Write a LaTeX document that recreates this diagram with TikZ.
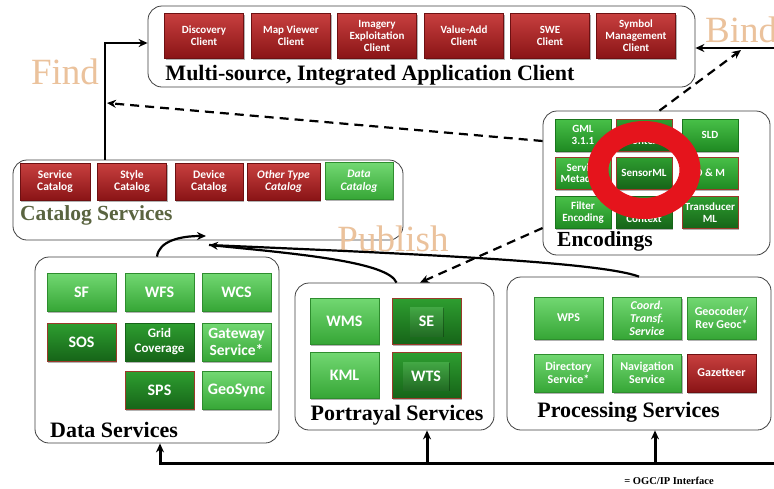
\documentclass[tikz,border=0pt]{standalone}
\usepackage{fontspec}
\setmainfont{Liberation Serif}
\newfontfamily\boxfont{Carlito}
\usetikzlibrary{arrows.meta,shadows}

\definecolor{redtop}{HTML}{C8403F}
\definecolor{redbot}{HTML}{8A1416}
\definecolor{lgtop}{HTML}{72D872}
\definecolor{lgbot}{HTML}{36A636}
\definecolor{mgtop}{HTML}{48C048}
\definecolor{mgbot}{HTML}{1F8A22}
\definecolor{dgtop}{HTML}{2E9E30}
\definecolor{dgbot}{HTML}{166418}
\definecolor{edgered}{HTML}{9A3A2A}
\definecolor{tanword}{HTML}{EBC29C}
\definecolor{olivelabel}{HTML}{5A6440}
\definecolor{ringred}{HTML}{E5141C}

\tikzset{
  panel/.style={draw=black!75, line width=0.8pt, rounded corners=14pt, fill=white, inner sep=0pt},
  tile/.style={rectangle, align=center, text=white, inner sep=1pt,
    font=\boxfont\bfseries\fontsize{11}{12}\selectfont,
    drop shadow={shadow xshift=1.2pt, shadow yshift=-1.6pt, opacity=0.3, fill=black}},
  redtile/.style={tile, top color=redtop, bottom color=redbot, draw=redbot!80!black, line width=0.4pt},
  lgtile/.style={tile, top color=lgtop, bottom color=lgbot, draw=lgbot!85!black, line width=0.4pt},
  mgtile/.style={tile, top color=mgtop, bottom color=mgbot, draw=mgbot!85!black, line width=0.4pt},
  dgtile/.style={tile, top color=dgtop, bottom color=dgbot, draw=edgered, line width=0.8pt},
  innertile/.style={rectangle, align=center, text=white, inner sep=0pt,
    top color=dgtop!90!white, bottom color=dgbot!95!white,
    font=\boxfont\bfseries\fontsize{16}{18}\selectfont,
    drop shadow={shadow xshift=1pt, shadow yshift=-1.2pt, opacity=0.3, fill=black}},
  clienttile/.style={redtile, minimum width=79pt, minimum height=45pt},
  cattile/.style={minimum width=69pt, minimum height=37pt, font=\boxfont\bfseries\fontsize{11.5}{12.5}\selectfont},
  enctile/.style={minimum width=56pt, minimum height=32pt, font=\boxfont\bfseries\fontsize{11}{11.5}\selectfont},
  datatile/.style={minimum width=69pt, minimum height=38pt, font=\boxfont\bfseries\fontsize{16}{18}\selectfont},
  porttile/.style={minimum width=69pt, minimum height=46pt, font=\boxfont\bfseries\fontsize{16}{18}\selectfont},
  proctile/.style={minimum width=69pt, font=\boxfont\bfseries\fontsize{12}{13}\selectfont},
  paneltitle/.style={font=\bfseries\fontsize{22}{24}\selectfont, inner sep=0pt},
  roleword/.style={text=tanword, font=\fontsize{37}{40}\selectfont, inner sep=0pt},
  conn/.style={line width=2.2pt, -{Stealth[length=9pt,width=8pt]}},
  dconn/.style={line width=2.2pt, dash pattern=on 9pt off 6pt, -{Stealth[length=9pt,width=8pt]}},
  bus/.style={line width=3pt, -{Stealth[length=9pt,width=8pt]}},
}

\begin{document}
\begin{tikzpicture}[x=1pt, y=-1pt]
\useasboundingbox (0,0) rectangle (774,488);
\fill[white] (0,0) rectangle (774,488);

% ---------- panels ----------
\node[panel, minimum width=547pt, minimum height=81pt] (clients) at (421.5,46.5) {};
\node[panel, minimum width=390pt, minimum height=80pt] (catalog) at (208,200) {};
\node[panel, minimum width=227pt, minimum height=144pt] (encodings) at (656.5,183) {};
\node[panel, minimum width=244pt, minimum height=186pt] (data) at (157,350) {};
\node[panel, minimum width=199pt, minimum height=147pt] (portrayal) at (394.5,356.5) {};
\node[panel, minimum width=264pt, minimum height=153pt] (processing) at (639,353.5) {};

% ---------- client tier ----------
\node[clienttile] (discovery) at (204,35.5) {Discovery\\Client};
\node[clienttile] (mapviewer) at (291,35.5) {Map Viewer\\Client};
\node[clienttile] (imagery) at (377,35.5) {Imagery\\Exploitation\\Client};
\node[clienttile] (valueadd) at (464,35.5) {Value-Add\\Client};
\node[clienttile] (sweclient) at (550,35.5) {SWE\\Client};
\node[clienttile] (symbol) at (636,35.5) {Symbol\\Management\\Client};
\node[paneltitle] (clientlabel) at (370,75) {Multi-source, Integrated Application Client};

% ---------- catalog services ----------
\node[redtile, cattile, minimum width=70pt] (svccat) at (55,181.5) {Service\\Catalog};
\node[redtile, cattile] (stylecat) at (132,181.5) {Style\\Catalog};
\node[redtile, cattile, minimum width=68pt] (devcat) at (209,181.5) {Device\\Catalog};
\node[redtile, cattile, minimum width=73pt, font=\boxfont\bfseries\itshape\fontsize{11.5}{12.5}\selectfont] (othercat) at (283.5,181.5) {Other Type\\Catalog};
\node[lgtile, cattile, minimum width=68pt, font=\boxfont\bfseries\itshape\fontsize{11.5}{12.5}\selectfont] (datacat) at (359,181) {Data\\Catalog};
\node[paneltitle, text=olivelabel, anchor=west, font=\bfseries\fontsize{21.5}{24}\selectfont] (catlabel) at (20,215) {Catalog Services};

% ---------- encodings ----------
\node[mgtile, enctile] (gml) at (583,135) {GML\\3.1.1};
\node[dgtile, enctile] (owc) at (644,135) {Open Web\\Context};
\node[mgtile, enctile] (sld) at (710,135) {SLD};
\node[mgtile, enctile, draw=edgered, line width=0.8pt] (svcmeta) at (583,173) {Service\\Metadata};
\node[dgtile, enctile] (sensorml) at (644,173) {SensorML};
\node[mgtile, enctile, draw=edgered, line width=0.8pt] (om) at (710,173) {O \& M};
\node[mgtile, enctile] (filter) at (583,212.5) {Filter\\Encoding};
\node[dgtile, enctile, draw=dgbot] (wmc) at (644,212.5) {Web Map\\Context};
\node[dgtile, enctile] (transducer) at (710,212.5) {Transducer\\ML};
\node[paneltitle, anchor=west, font=\bfseries\fontsize{21.5}{24}\selectfont] (enclabel) at (557,241) {Encodings};
\draw[ringred, line width=21pt] (644,170) ellipse [x radius=46, y radius=38.5];

% ---------- data services ----------
\node[lgtile, datatile] (sf) at (81.5,292) {SF};
\node[lgtile, datatile] (wfs) at (159.5,292) {WFS};
\node[lgtile, datatile] (wcs) at (236.5,292) {WCS};
\node[dgtile, datatile] (sos) at (81.5,342) {SOS};
\node[dgtile, datatile, draw=dgbot, font=\boxfont\bfseries\fontsize{13}{15}\selectfont] (grid) at (159.5,342) {Grid\\Coverage};
\node[lgtile, datatile, font=\boxfont\bfseries\fontsize{15.5}{17}\selectfont] (gateway) at (236.5,342) {Gateway\\Service*};
\node[dgtile, datatile] (sps) at (159.5,390.5) {SPS};
\node[lgtile, datatile] (geosync) at (236.5,390.5) {GeoSync};
\node[paneltitle, anchor=west] (datalabel) at (50,430) {Data Services};

% ---------- portrayal services ----------
\node[lgtile, porttile] (wms) at (344.5,321) {WMS};
\node[dgtile, porttile] (se) at (426.5,321) {};
\node[innertile, minimum width=33pt, minimum height=29pt] (seinner) at (426.5,321.5) {SE};
\node[lgtile, porttile] (kml) at (344.5,375) {KML};
\node[dgtile, porttile] (wts) at (426.5,375) {};
\node[innertile, minimum width=46pt, minimum height=28pt] (wtsinner) at (426,376) {WTS};
\node[paneltitle] (portlabel) at (397,415) {Portrayal Services};

% ---------- processing services ----------
\node[lgtile, proctile, minimum height=42pt] (wps) at (568.5,318) {WPS};
\node[lgtile, proctile, minimum height=42pt, font=\boxfont\bfseries\itshape\fontsize{12}{13}\selectfont] (coord) at (647,318) {Coord.\\Transf.\\Service};
\node[lgtile, proctile, minimum height=42pt] (geocoder) at (721.5,318) {Geocoder/\\Rev Geoc*};
\node[lgtile, proctile, minimum height=38pt] (directory) at (568.5,373) {Directory\\Service*};
\node[lgtile, proctile, minimum height=38pt] (navigation) at (647,373) {Navigation\\Service};
\node[redtile, proctile, minimum height=38pt] (gazetteer) at (721.5,373) {Gazetteer};
\node[paneltitle] (proclabel) at (628.5,412) {Processing Services};

% ---------- role words ----------
\node[roleword] (find) at (65,72) {Find};
\node[roleword, anchor=west] (bind) at (705,30) {Bind};
\node[roleword] (publish) at (393,239) {Publish};

% ---------- find ----------
\coordinate (findcorner) at (105,43);
\draw[conn] (catalog.north -| findcorner) -- (findcorner) -- (clients.west |- findcorner);
\draw[dconn] (encodings.west |- 0,141) -- (107,103);

% ---------- bind ----------
\coordinate (bindsrc) at (774,48);
\draw[conn] (bindsrc) -- (clients.east |- bindsrc);
\coordinate (bindhit) at (741,50);
\draw[dconn] ([xshift=3pt]encodings.north) -- (bindhit);

% ---------- publish ----------
\coordinate (pubtipA) at (206,236);
\coordinate (pubtipB) at (209,245);
\draw[conn] (data.north) .. controls (159,241) and (180,236) .. (pubtipA);
\draw[conn] ([xshift=2pt]portrayal.north) .. controls (388,262) and (300,254) .. (pubtipB);
\draw[line width=2.2pt] (processing.north) .. controls (600,262) and (420,254) .. (pubtipB);
\draw[dconn] (encodings.west |- 0,228) -- ([xshift=25.5pt]portrayal.north);

% ---------- OGC/IP interface bus ----------
\coordinate (busL) at (160,463);
\coordinate (busR) at (774,463);
\draw[bus] (busR) -- (busL) -- (busL |- data.south);
\draw[bus] ([xshift=32.5pt]portrayal.south |- busL) -- ([xshift=32.5pt]portrayal.south);
\draw[bus] ([xshift=16pt]processing.south |- busL) -- ([xshift=16pt]processing.south);
\node[font=\bfseries\fontsize{10.5}{12}\selectfont, inner sep=0pt] (legend) at (669,481) {= OGC/IP Interface};
\end{tikzpicture}
\end{document}
